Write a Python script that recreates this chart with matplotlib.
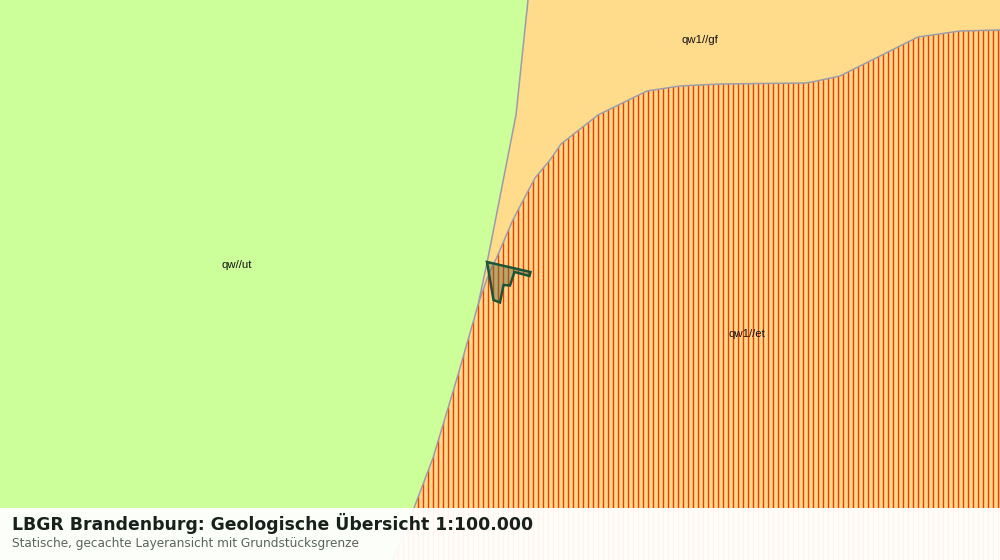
from matplotlib import pyplot as plt
from matplotlib.patches import Polygon, Rectangle

# map outlines in screen pixels
border_x = [528, 516, 488, 478, 458, 433, 414, 393]
border_y = [0, 115, 258, 305, 375, 458, 508, 560]
et_top_x = [479, 488, 497, 503, 512, 517, 535, 550, 561, 598, 647, 680, 720, 805, 812, 840, 870, 918, 960, 1000]
et_top_y = [302, 276, 257, 243, 222, 212, 178, 160, 144, 115, 91, 86, 84, 83, 82, 76, 61, 37, 31, 30]
parcel_x = [487, 530.5, 529.5, 514.5, 510, 503.5, 500, 493.5]
parcel_y = [262, 272, 276, 272, 285.5, 285, 302.5, 300]

labels = ['qw//ut', 'qw1//gf', 'qw1//et']
label_x = [237, 700, 747]
label_y = [265, 40, 334]

GREEN = '#ccff99'
ORANGE = '#ffdb8c'
RED = '#ff3300'
EDGE = '#9c9ca8'

fig = plt.figure(figsize=(10, 5.6), dpi=100)
ax = fig.add_axes([0, 0, 1, 1])
ax.set_xlim(0, 1000)
ax.set_ylim(560, 0)
ax.axis('off')

ax.add_patch(Rectangle((0, 0), 1000, 560, facecolor=ORANGE, edgecolor='none', zorder=1))

green = list(zip(border_x, border_y)) + [(0, 560), (0, 0)]
ax.add_patch(Polygon(green, closed=True, facecolor=GREEN, edgecolor='none', zorder=2))

# hatched unit: curved upper edge, then back along the border below the junction
et = list(zip(et_top_x, et_top_y)) + [(1000, 560)] + list(zip(border_x[:2:-1], border_y[:2:-1]))
et_clip = Polygon(et, closed=True, facecolor='none', edgecolor='none', zorder=3)
ax.add_patch(et_clip)
hatch_x = list(range(392, 1000, 5))
hatch = ax.vlines([x + 0.5 for x in hatch_x], 0, 560, color=RED, linewidth=1.0, zorder=3)
hatch.set_clip_path(et_clip)

ax.plot(border_x, border_y, color=EDGE, linewidth=1.1, zorder=4)
ax.plot(et_top_x, et_top_y, color=EDGE, linewidth=1.1, zorder=4)

for name, x, y in zip(labels, label_x, label_y):
    ax.text(x, y, name, family='Liberation Sans', fontsize=8.2, color='#111111',
            ha='center', va='center', zorder=5)

ax.add_patch(Polygon(list(zip(parcel_x, parcel_y)), closed=True, facecolor='#5b6a40', alpha=0.45,
                     edgecolor='none', zorder=6))
ax.add_patch(Polygon(list(zip(parcel_x, parcel_y)), closed=True, facecolor='none',
                     edgecolor='#1a5538', linewidth=1.8, joinstyle='miter', zorder=7))

# caption strip over the map
ax.add_patch(Rectangle((0, 508), 1000, 52, facecolor='white', alpha=0.95, edgecolor='none', zorder=8))
ax.text(12, 523, 'LBGR Brandenburg: Geologische Übersicht 1:100.000', family='DejaVu Sans',
        fontsize=12.45, fontweight='bold', color='#17201b', ha='left', va='center', zorder=9)
ax.text(12, 544, 'Statische, gecachte Layeransicht mit Grundstücksgrenze', family='DejaVu Sans',
        fontsize=8.7, color='#5a635e', ha='left', va='center', zorder=9)

plt.savefig('out.png', dpi=100)
